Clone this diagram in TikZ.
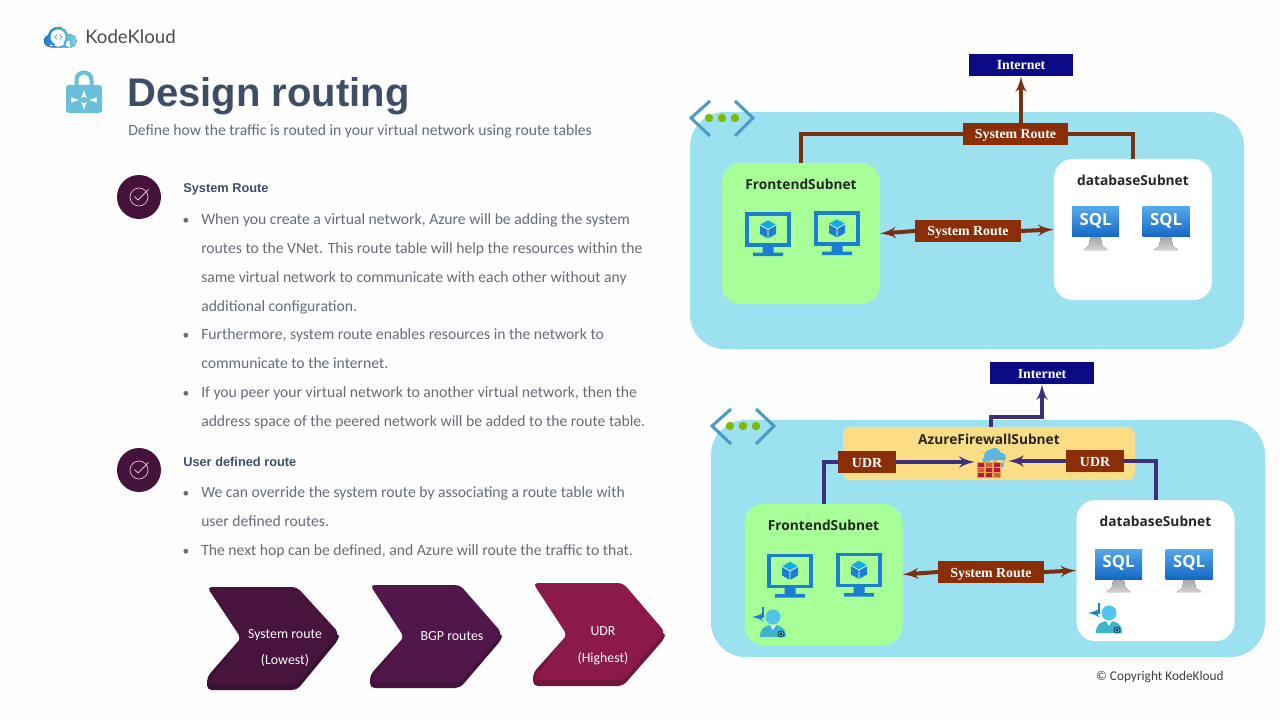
\documentclass[tikz,border=0pt]{standalone}
\usepackage{fontspec}
\setmainfont{Carlito}
\newfontfamily\headfont{Liberation Sans}
\newfontfamily\logofont{Lato}
\newfontfamily\subnetfont{Open Sans}
\newfontfamily\labelfont{Liberation Serif}
\usepackage{tikz}
\usetikzlibrary{arrows,positioning}

\definecolor{slate}{HTML}{3F4E68}
\definecolor{bodygrey}{HTML}{656C78}
\definecolor{vnetblue}{HTML}{9BE1EF}
\definecolor{frontgreen}{HTML}{A8FF98}
\definecolor{fwyellow}{HTML}{FADD85}
\definecolor{routebrown}{HTML}{8A2E08}
\definecolor{routeline}{HTML}{7A3012}
\definecolor{udrline}{HTML}{3D2F7C}
\definecolor{netnavy}{HTML}{0B0A85}
\definecolor{vmblue}{HTML}{1A7FD0}
\definecolor{plum}{HTML}{44123A}
\definecolor{vnetmarkblue}{HTML}{4B9CC4}
\definecolor{dotgreen}{HTML}{7FBA00}
\definecolor{sqltop}{HTML}{55A8EA}
\definecolor{sqlbottom}{HTML}{1468C4}
\definecolor{personblue}{HTML}{50C4EA}
\definecolor{personteal}{HTML}{3CB4D0}
\definecolor{cloudblue}{HTML}{5BB7DF}
\definecolor{brickred}{HTML}{E8A050}
\definecolor{brickorange}{HTML}{D0603C}
\definecolor{brickdark}{HTML}{B01C3C}
\definecolor{checkpink}{HTML}{E2BEDC}
\definecolor{lockblue}{HTML}{6BBFD8}
\definecolor{chevfirst}{HTML}{47143D}
\definecolor{chevfirstside}{HTML}{3A1034}
\definecolor{chevsecond}{HTML}{52174A}
\definecolor{chevsecondside}{HTML}{43123D}
\definecolor{chevthird}{HTML}{8B1A4A}
\definecolor{chevthirdside}{HTML}{73163E}

\tikzset{
  vnetmark/.pic={
    \draw[draw=vnetmarkblue,line width=2.3pt] (-12,-17) -- (-31,0) -- (-12,18);
    \draw[draw=vnetmarkblue,line width=2.3pt] (13,-17) -- (31,0) -- (13,18);
    \fill[fill=dotgreen] (-13,0) circle (4.2) (0,0) circle (4.2) (13,0) circle (4.2);
  },
  vmicon/.pic={
    \draw[draw=vmblue,line width=2.8pt] (-21,-15.5) rectangle (21,15.5);
    \fill[fill=vmblue] (-5.5,17) rectangle (5.5,23) (-15,23) rectangle (15,26.5);
    \fill[fill=vmblue] (0,-9) -- (8,-4.5) -- (8,4.5) -- (0,9) -- (-8,4.5) -- (-8,-4.5) -- cycle;
    \fill[fill=vmblue!65!cyan] (0,-9) -- (8,-4.5) -- (0,0) -- (-8,-4.5) -- cycle;
    \draw[draw=white,line width=0.5pt] (-8,-4.5) -- (0,0) -- (8,-4.5) (0,0) -- (0,9);
  },
  sqlicon/.pic={
    \fill[top color=gray!70,bottom color=gray!35] (-5,15) -- (5,15) -- (7,24) -- (12,28) -- (-12,28) -- (-7,24) -- cycle;
    \fill[top color=sqltop,bottom color=sqlbottom] (-23.5,-15) rectangle (23.5,15);
    \node[text=white,font=\subnetfont\bfseries\fontsize{12.5}{14}\selectfont,inner sep=0pt] (-name) at (0,-1) {SQL};
  },
  routeicon/.pic={
    \draw[draw=vmblue,line width=1.9pt,->,>=latex'] (-10,-10) -- (-10,0) -- (-21,0);
    \fill[fill=personblue] (0,0) circle (7.5);
    \fill[fill=personteal] (-13,20) .. controls (-13,11) and (-8,8) .. (0,8) .. controls (8,8) and (13,11) .. (13,20) -- cycle;
    \fill[fill=white] (-3,8) -- (3,8) -- (0,13) -- cycle;
    \draw[draw=black!60!teal,line width=0.5pt] (8,17) circle (3.2) (8,17) circle (1.2);
  },
  fwicon/.pic={
    \fill[fill=cloudblue] (-1,-7) circle (6.5) (3,-9) circle (6) (9,-5) circle (5.5) (-5,-3) circle (4) (-5,-3) rectangle (12,4);
    \fill[fill=brickred] (-14.5,-1) rectangle (9.5,15);
    \foreach \r/\c/\col in {0/0/brickdark,1/0/brickorange,2/0/brickdark,0/1/brickorange,1/1/brickdark,2/1/brickdark,0/2/brickdark,1/2/brickdark,2/2/brickorange}
      \fill[fill=\col] (-14+\c*8,-0.5+\r*5.3) rectangle (-7.5+\c*8,3.6+\r*5.3);
  },
  checkmark/.pic={
    \draw[draw=checkpink,line width=0.55pt] (0,0) circle (9);
    \draw[draw=checkpink,line width=0.55pt] (-4.5,-0.5) -- (-1,3) -- (9.5,-7.5);
  },
  subnet/.style={rounded corners=14pt,inner sep=0pt},
  subnettitle/.style={font=\subnetfont\bfseries\fontsize{10.3}{12}\selectfont,text=black!85,inner sep=0pt},
  routelabel/.style={fill=routebrown,text=white,inner sep=0pt,minimum width=79pt,minimum height=16.5pt,
    text height=7.5pt,text depth=0pt,font=\labelfont\bfseries\fontsize{10.4}{12}\selectfont},
  udrlabel/.style={routelabel,minimum width=43.5pt},
  netlabel/.style={routelabel,fill=netnavy,text=white,minimum width=78.5pt},
  vnet/.style={fill=vnetblue,rounded corners=26pt,inner sep=0pt,minimum width=415.5pt,minimum height=177.75pt},
  sysedge/.style={draw=routeline,line width=3pt},
  sysarrow/.style={sysedge,->,>=latex'},
  udredge/.style={draw=udrline,line width=3pt},
  udrarrow/.style={udredge,->,>=latex'},
  bodyline/.style={anchor=base west,inner sep=0pt,text=bodygrey,font=\fontsize{11.75}{15}\selectfont},
  bulletmark/.style={anchor=base,inner sep=0pt,text=bodygrey,font=\fontsize{10}{15}\selectfont},
  heading/.style={anchor=base west,inner sep=0pt,text=slate,font=\headfont\bfseries\fontsize{9.6}{12}\selectfont},
  chevronlabel/.style={text=white!92!pink,inner sep=0pt,text height=7pt,text depth=2pt,font=\fontsize{10.4}{13}\selectfont}
}

\newcommand{\chevronshape}[6]{% x, y top, y tip, y notch, face, side
  \fill[fill=#6,rounded corners=3.5pt] (#1+34,#4) -- (#1+132,#3) -- (#1+132,#3+6) -- (#1+90,#2+103) -- (#1,#2+103) -- (#1,#2+90) -- cycle;
  \fill[fill=#5,rounded corners=3.5pt] (#1,#2) -- (#1+90,#2) -- (#1+132,#3) -- (#1+90,#2+97) -- (#1,#2+97) -- (#1+34,#4) -- cycle;
}

\begin{document}
\begin{tikzpicture}[x=0.75pt,y=-0.75pt]
  \fill[fill=white!99!gray] (0,0) rectangle (1280,720);
  \useasboundingbox (0,0) rectangle (1280,720);

  % logo
  \fill[left color=vmblue,right color=cyan!45!teal!55!white] (50,41) circle (6) (58,37) circle (10) (70,41) circle (6.5) (50,41) rectangle (70,47.5);
  \fill[fill=white] (58,37) circle (7.5);
  \draw[draw=cyan!60!teal,line width=0.5pt] (57,34.5) -- (54.5,37) -- (57,39.5);
  \draw[draw=cyan!60!teal,line width=0.5pt] (59.5,34.5) -- (62,37) -- (59.5,39.5);
  \node[anchor=base west,inner sep=0pt,text=black!70,font=\logofont\fontsize{14}{16}\selectfont] (logotext) at (85,44) {KodeKloud};

  % title
  \draw[draw=lockblue,line width=3pt] (76.5,88) -- (76.5,80) .. controls (76.5,70) and (91.5,70) .. (91.5,80) -- (91.5,88);
  \fill[fill=lockblue,rounded corners=2pt] (66,85) rectangle (102,113);
  \draw[draw=white,line width=1.1pt,->,>=latex'] (84,97) -- (84,90);
  \draw[draw=white,line width=1.1pt,->,>=latex'] (84,103) -- (84,110);
  \draw[draw=white,line width=1.1pt,->,>=latex'] (71,100) -- (79,100);
  \draw[draw=white,line width=1.1pt,->,>=latex'] (97,100) -- (89,100);
  \node[anchor=base west,inner sep=0pt,text=slate,font=\headfont\bfseries\fontsize{30}{36}\selectfont] (title) at (127,107) {Design routing};
  \node[bodyline] (subtitle) at (128,136) {Define how the traffic is routed in your virtual network using route tables};

  % system route text
  \fill[fill=plum] (139,197) circle (22);
  \pic (checka) at (139,197) {checkmark};
  \node[heading] (headsys) at (183,193) {System Route};
  \node[bulletmark] (ba) at (186,224) {•};
  \node[bodyline] (la) at (201,224) {When you create a virtual network, Azure will be adding the system};
  \node[bodyline] (lb) at (201,253) {routes to the VNet. This route table will help the resources within the};
  \node[bodyline] (lc) at (201,282) {same virtual network to communicate with each other without any};
  \node[bodyline] (ld) at (201,311) {additional configuration.};
  \node[bulletmark] (bb) at (186,339) {•};
  \node[bodyline] (le) at (201,339) {Furthermore, system route enables resources in the network to};
  \node[bodyline] (lf) at (201,368) {communicate to the internet.};
  \node[bulletmark] (bc) at (186,397) {•};
  \node[bodyline] (lg) at (201,397) {If you peer your virtual network to another virtual network, then the};
  \node[bodyline] (lh) at (201,426) {address space of the peered network will be added to the route table.};

  % user defined text
  \fill[fill=plum] (139,470) circle (22);
  \pic (checkb) at (139,470) {checkmark};
  \node[heading] (headudr) at (183,466) {User defined route};
  \node[bulletmark] (bd) at (186,497) {•};
  \node[bodyline] (li) at (201,497) {We can override the system route by associating a route table with};
  \node[bodyline] (lj) at (201,526) {user defined routes.};
  \node[bulletmark] (be) at (186,555) {•};
  \node[bodyline] (lk) at (201,555) {The next hop can be defined, and Azure will route the traffic to that.};

  % chevrons
  \chevronshape{207}{587}{633}{638}{chevfirst}{chevfirstside}
  \chevronshape{370}{585}{633}{637}{chevsecond}{chevsecondside}
  \chevronshape{533}{583}{632}{635}{chevthird}{chevthirdside}
  \node[chevronlabel] (cha) at (285,635) {System route};
  \node[chevronlabel] (chb) at (285,661) {(Lowest)};
  \node[chevronlabel] (chc) at (452,637) {BGP routes};
  \node[chevronlabel] (chd) at (603,632) {UDR};
  \node[chevronlabel] (che) at (603,659) {(Highest)};

  % upper network
  \node[vnet] (vneta) at (967,230.5) {};
  \pic (marka) at (722,118) {vnetmark};
  \node[subnet,fill=frontgreen,minimum width=118.5pt,minimum height=105.75pt] (fronta) at (801,233.5) {};
  \node[subnet,fill=white,minimum width=118.5pt,minimum height=105.75pt] (dba) at (1133,229.5) {};
  \node[subnettitle] (frontatitle) at (801,184) {FrontendSubnet};
  \node[subnettitle] (dbatitle) at (1133,180) {databaseSubnet};
  \pic (vma) at (768,229.5) {vmicon};
  \pic (vmb) at (837,228.5) {vmicon};
  \pic (sqla) at (1095.5,222) {sqlicon};
  \pic (sqlb) at (1166,222) {sqlicon};
  \node[netlabel] (neta) at (1021,65) {Internet};
  \node[routelabel] (toproute) at (1015.5,134) {System Route};
  \node[routelabel] (midroute) at (968,231) {System Route};
  % upper edges
  \draw[sysedge] (fronta.north) |- (toproute.west);
  \draw[sysedge] (dba.north) |- (toproute.east);
  \draw[sysarrow] (neta.south |- toproute.north) -- (neta.south);
  \draw[sysarrow] (midroute.west) -- (fronta.east);
  \draw[sysarrow] (midroute.east) -- (dba.west);

  % lower network
  \node[vnet] (vnetb) at (988,538.5) {};
  \pic (markb) at (743,426) {vnetmark};
  \node[subnet,fill=fwyellow,rounded corners=6pt,minimum width=219pt,minimum height=40pt] (fwsub) at (989,453.5) {};
  \node[subnet,fill=frontgreen,minimum width=118.5pt,minimum height=105.75pt] (frontb) at (823.5,574.5) {};
  \node[subnet,fill=white,minimum width=118.5pt,minimum height=105.75pt] (dbb) at (1155.5,570.5) {};
  \node[subnettitle] (fwtitle) at (989,439) {AzureFirewallSubnet};
  \node[subnettitle] (frontbtitle) at (823.5,525.5) {FrontendSubnet};
  \node[subnettitle] (dbbtitle) at (1155.5,521) {databaseSubnet};
  \pic (vmc) at (790,571) {vmicon};
  \pic (vmd) at (859,570) {vmicon};
  \pic (sqlc) at (1118.5,564) {sqlicon};
  \pic (sqld) at (1189,564) {sqlicon};
  \pic (routea) at (773,617) {routeicon};
  \pic (routeb) at (1109,613) {routeicon};
  \node[inner sep=0pt,minimum width=24.75pt,minimum height=22pt] (fw) at (991.5,463) {};
  \pic (fwmark) at (fw.center) {fwicon};
  \node[netlabel] (netb) at (1042,373) {Internet};
  \node[udrlabel] (udra) at (867,462) {UDR};
  \node[udrlabel] (udrb) at (1095,461) {UDR};
  \node[routelabel] (lowroute) at (991,572) {System Route};
  \coordinate (fwout) at (991,427);
  \coordinate (fwbend) at (991,417);
  % lower edges
  \draw[udredge] (frontb.north) |- (udra.west);
  \draw[udredge] (dbb.north) |- (udrb.east);
  \draw[udrarrow] (udra.east) -- (fw.west |- udra.east);
  \draw[udrarrow] (udrb.west) -- (fw.east |- udrb.west);
  \draw[udrarrow] (fwout) -- (fwbend) -| (netb.south);
  \draw[sysarrow] (lowroute.west) -- (frontb.east);
  \draw[sysarrow] (lowroute.east) -- (dbb.west);

  \node[anchor=base east,inner sep=0pt,text=black!75,font=\fontsize{10}{12}\selectfont] (copyright) at (1224,680) {© Copyright KodeKloud};
\end{tikzpicture}
\end{document}
